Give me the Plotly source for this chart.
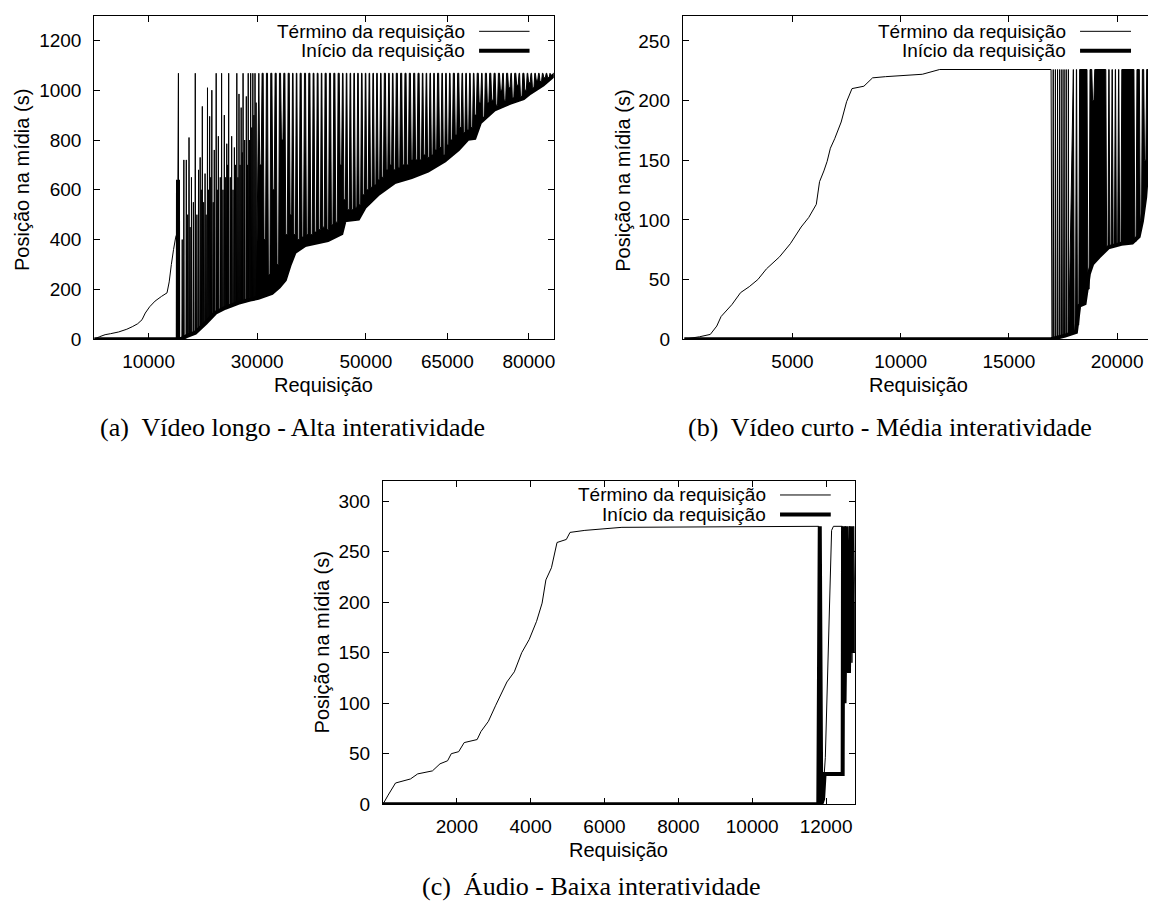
import plotly.graph_objects as go

LARG, ALT = 1149, 916

# ---------------- (a) Vídeo longo - Alta interatividade ----------------
a_duracao = 1068
a_marcas_x = [10000, 30000, 50000, 65000, 80000]
a_rotulos_x = ["10000", "30000", "50000", "65000", "80000"]
a_marcas_y = [0, 200, 400, 600, 800, 1000, 1200]
a_rotulos_y = ["0", "200", "400", "600", "800", "1000", "1200"]

# posição de início de cada requisição (traço grosso)
a_inicio_x = [0, 15380, 15420, 15460, 16100, 17000, 18600, 20500, 22300, 24100, 26500,
              28700, 30200, 32700, 34000, 35100, 36000, 36900, 38800, 43000, 45500,
              46100, 48600, 49800, 52300, 55300, 58400, 61400, 64500, 67000, 68800,
              70000, 71000, 73700, 76500, 79000, 80200, 82600, 84600]
a_inicio_y = [0, 0, 640, 0, 2, 12, 26, 65, 106, 126, 146,
              159, 166, 186, 210, 239, 300, 350, 378, 398, 425,
              478, 484, 531, 584, 631, 651, 677, 717, 763, 805,
              808, 870, 923, 949, 968, 989, 1022, 1060]

# término das requisições que começam no instante 0
a_rampa_x = [0, 1000, 2000, 3000, 4500, 6000, 7000, 8000, 8800, 9400, 10200, 11200,
             12400, 13400, 13800, 14200, 14600, 15000, 15250, 15400, 15500, 15540]
a_rampa_y = [0, 10, 18, 22, 29, 40, 50, 62, 78, 105, 130, 153,
             172, 186, 230, 300, 360, 410, 425, 640, 1068, 3]

# picos isolados do término (posição, altura, pé)
a_picos_x = [16200, 16500, 16950, 17200, 17450, 17650, 17900, 18250, 18600, 18900,
             19200, 19500, 19700, 19900, 20150, 20400, 20600, 20850, 21050, 21250,
             21450, 21650, 21900, 22100, 22450, 22650, 22850, 23200, 23450, 23700,
             23950, 24200, 24400, 24550, 24750, 25050, 25300, 25550, 25800, 26000,
             26250, 26450, 26650, 26850, 27050, 27250, 27400, 27700, 28000, 28200,
             28350, 28600, 28800, 29000, 29200, 29400, 29600, 29800]
a_picos_y = [400, 720, 720, 500, 810, 450, 650, 550, 1068, 500,
             680, 730, 600, 935, 550, 665, 500, 1010, 600, 895,
             650, 1000, 550, 760, 1068, 600, 815, 650, 1068, 600,
             900, 650, 785, 700, 1068, 650, 815, 600, 770, 700,
             1068, 650, 985, 700, 930, 750, 1068, 800, 975, 700,
             1068, 800, 1068, 850, 1068, 900, 1068, 950]
a_picos_pe = [4, 6, 12, 15, 18, 20, 22, 25, 27, 33,
              40, 46, 51, 56, 60, 64, 68, 74, 78, 83,
              87, 92, 97, 101, 107, 110, 112, 116, 119, 122,
              125, 128, 131, 133, 135, 138, 140, 142, 144, 145,
              146, 147, 147, 149, 150, 152, 153, 155, 157, 158,
              158, 159, 160, 161, 162, 163, 164, 165]

# requisições interrompidas cedo na região densa (posição, término)
a_quedas_x = [30600, 31400, 32200, 33000, 33800, 34600, 35400, 36200, 36900, 37600,
              38400, 39200, 40000, 40750, 41500, 42200, 43000, 43800, 44600, 45400,
              46100, 46800, 47500, 48200, 48900, 49600, 50300, 51000, 51700, 52400,
              53100, 53900, 54600, 55300, 56100, 56900, 57700, 58500, 59300, 60100,
              60800, 61500, 62200, 62900, 63700, 64400, 65100, 65800, 66600, 67400,
              68100, 68800, 69500, 70200, 71000, 71700, 72500, 73300, 74100, 74900,
              75600, 76400, 77100, 77900, 78600, 79400, 80100, 80800, 81500, 82200,
              82900, 83600, 84200]
a_quedas_y = [700, 400, 260, 600, 300, 800, 420, 500, 420, 400,
              410, 420, 420, 430, 440, 450, 440, 460, 470, 700,
              560, 520, 520, 530, 540, 580, 600, 610, 620, 640,
              650, 680, 700, 680, 690, 700, 700, 720, 720, 720,
              740, 730, 740, 760, 770, 740, 780, 800, 820, 850,
              830, 840, 850, 900, 950, 890, 950, 960, 940, 1000,
              960, 1010, 970, 1020, 975, 1000, 1030, 1010, 1040, 1035,
              1050, 1050, 1060]

# ---------------- (b) Vídeo curto - Média interatividade ----------------
b_duracao = 226
b_marcas_x = [5000, 10000, 15000, 20000]
b_rotulos_x = ["5000", "10000", "15000", "20000"]
b_marcas_y = [0, 50, 100, 150, 200, 250]
b_rotulos_y = ["0", "50", "100", "150", "200", "250"]

b_inicio_x = [0, 16950, 17600, 18100, 18250, 18500, 18700, 18850, 19150, 19600,
              20200, 20700, 21000, 21150, 21300, 21430]
b_inicio_y = [0, 0, 3, 6, 28, 30, 55, 63, 69, 77,
              80, 81, 86, 99, 119, 150]

b_rampa_x = [0, 700, 1200, 1500, 1700, 2200, 2600, 3000, 3400, 3800, 4400, 4900,
             5400, 5750, 6100, 6250, 6450, 6600, 6750, 6950, 7250, 7500, 7750,
             8300, 8700, 9300, 11000, 11800, 16950, 16990]
b_rampa_y = [0, 2, 4, 11, 19, 29, 39, 44, 50, 59, 69, 80,
             94, 102, 113, 132, 141, 149, 160, 168, 182, 199, 210,
             212, 219, 220, 222, 226, 226, 0]

b_picos_x = [17050, 17150, 17250, 17350, 17450, 17550, 17650, 17750]
b_picos_y = [226, 226, 226, 226, 226, 226, 226, 226]
b_picos_pe = [1, 1, 2, 2, 2, 3, 3, 3]

b_quedas_x = [18050, 18200, 18680, 18900, 19550, 19700, 19850, 20000, 20150, 20850,
              21100, 21300]
b_quedas_y = [6, 12, 42, 200, 76, 77, 78, 79, 80, 82,
              95, 150]

# ---------------- (c) Áudio - Baixa interatividade ----------------
c_marcas_x = [2000, 4000, 6000, 8000, 10000, 12000]
c_rotulos_x = ["2000", "4000", "6000", "8000", "10000", "12000"]
c_marcas_y = [0, 50, 100, 150, 200, 250, 300]
c_rotulos_y = ["0", "50", "100", "150", "200", "250", "300"]

c_inicio_x = [0, 11790, 11830, 11870, 11920, 11960, 12450, 12460, 12500, 12560,
              12620, 12680, 12730, 12780]
c_inicio_y = [0, 0, 275, 0, 5, 30, 30, 275, 100, 275,
              130, 275, 150, 200]

c_termino_x = [0, 140, 340, 745, 940, 1340, 1545, 1750, 1850, 2050, 2200, 2550,
               2655, 2855, 3055, 3357, 3557, 3758, 3960, 4160, 4310, 4412, 4563,
               4714, 4966, 5066, 5468, 6472, 11800, 11810, 11900, 11980, 12150,
               12200, 12440, 12470, 12520, 12580, 12640, 12700, 12750, 12780]
c_termino_y = [0, 9, 21, 25, 30, 33, 40, 43, 50, 52, 61, 64,
               72, 82, 98, 121, 131, 150, 163, 181, 199, 222, 234,
               259, 262, 269, 271, 274, 275, 0, 3, 46, 271,
               275, 275, 40, 275, 180, 275, 140, 275, 200]


def dentes(px, py, pe, meia):
    """Picos finos do traço de término: sobe do pé até a altura e volta."""
    xs, ys = [], []
    for x, y, b in zip(px, py, pe):
        xs += [x - meia, x, x + meia]
        ys += [b, y, b]
    return xs, ys


def fendas(qx, qy, topo, sup, inf):
    """Região densa no fim da mídia, com fendas onde o término cai."""
    xs, ys = [], []
    for x, y in zip(qx, qy):
        xs += [x - sup, x - inf, x + inf, x + sup]
        ys += [topo, y, y, topo]
    return xs, ys


ax1, ay1 = dentes(a_picos_x, a_picos_y, a_picos_pe, 60)
ax2, ay2 = fendas(a_quedas_x, a_quedas_y, a_duracao, 300, 140)
a_denso_x = ax1 + ax2 + [a_inicio_x[-1]]
a_denso_y = ay1 + ay2 + [a_duracao]

bx1, by1 = dentes(b_picos_x, b_picos_y, b_picos_pe, 20)
bx2, by2 = fendas(b_quedas_x, b_quedas_y, b_duracao, 70, 30)
b_denso_x = bx1 + bx2 + [b_inicio_x[-1]]
b_denso_y = by1 + by2 + [b_duracao]

PRETO = "black"
FONTE = "Liberation Sans, Arial, Helvetica, sans-serif"
SERIFA = "Liberation Serif, Times New Roman, serif"
TAM = 19

fig = go.Figure()


def linha(x, y, larg, eixos, **extra):
    fig.add_trace(go.Scatter(x=x, y=y, mode="lines", showlegend=False, hoverinfo="skip",
                             line=dict(color=PRETO, width=larg, simplify=False),
                             xaxis=eixos[0], yaxis=eixos[1], **extra))


# (a)
linha(a_inicio_x, a_inicio_y, 4, ("x", "y"))
linha(a_denso_x, a_denso_y, 1, ("x", "y"), fill="tonexty", fillcolor=PRETO)
linha(a_rampa_x, a_rampa_y, 1, ("x", "y"))
# (b)
linha(b_inicio_x, b_inicio_y, 4, ("x2", "y2"))
linha(b_denso_x, b_denso_y, 1, ("x2", "y2"), fill="tonexty", fillcolor=PRETO)
linha(b_rampa_x, b_rampa_y, 1, ("x2", "y2"))
# (c)
linha(c_termino_x, c_termino_y, 1, ("x3", "y3"))
linha(c_inicio_x, c_inicio_y, 4, ("x3", "y3"))


def px(v):
    return v / LARG


def py(v):
    return 1 - v / ALT


def eixo(dominio, faixa, marcas, rotulos, ancora, espelho=True, afast=8):
    return dict(domain=dominio, range=faixa, tickvals=marcas, ticktext=rotulos,
                ticks="inside", ticklen=6, tickwidth=1, tickcolor=PRETO,
                showline=True, linecolor=PRETO, linewidth=1,
                mirror="ticks" if espelho else False,
                showgrid=False, zeroline=False, anchor=ancora, fixedrange=True,
                ticklabelstandoff=afast,
                tickfont=dict(family=FONTE, size=TAM, color=PRETO))


fig.update_layout(
    width=LARG, height=ALT, margin=dict(l=0, r=0, t=0, b=0),
    paper_bgcolor="white", plot_bgcolor="white",
    xaxis=eixo([px(94.3), px(554.3)], [0, 84600], a_marcas_x, a_rotulos_x, "y", afast=5),
    yaxis=eixo([py(343.3), py(15.7)], [0, 1300], a_marcas_y, a_rotulos_y, "x"),
    xaxis2=eixo([px(683.4), 1.0], [-70, 21430], b_marcas_x, b_rotulos_x, "y2", afast=5),
    yaxis2=eixo([py(343.3), py(16)], [0, 271], b_marcas_y, b_rotulos_y, "x2", espelho=False),
    xaxis3=eixo([px(383.3), px(855.6)], [0, 12780], c_marcas_x, c_rotulos_x, "y3", afast=5),
    yaxis3=eixo([py(814), py(486.7)], [0, 320], c_marcas_y, c_rotulos_y, "x3"),
)

notas = []
formas = []


def texto(x, y, t, tam=TAM, fam=FONTE, ang=0, ax="center"):
    notas.append(dict(x=px(x), y=py(y), xref="paper", yref="paper", text=t,
                      showarrow=False, textangle=ang, xanchor=ax, yanchor="middle",
                      borderpad=0, font=dict(family=fam, size=tam, color=PRETO)))


def legenda(fim_texto, ini_linha, fim_linha, y1, y2):
    texto(fim_texto, y1, "Término da requisição", ax="right")
    texto(fim_texto, y2, "Início da requisição", ax="right")
    for yy, w in ((y1, 1), (y2, 4)):
        formas.append(dict(type="line", xref="paper", yref="paper",
                           x0=px(ini_linha), x1=px(fim_linha), y0=py(yy), y1=py(yy),
                           line=dict(color=PRETO, width=w)))


# títulos dos eixos
texto(324, 389.5, "Requisição", tam=20)
texto(22.7, 182.5, "Posição na mídia (s)", tam=20, ang=-90)
texto(919, 389.5, "Requisição", tam=20)
texto(623.5, 183, "Posição na mídia (s)", tam=20, ang=-90)
texto(619.5, 860.5, "Requisição", tam=20)
texto(322.5, 650, "Posição na mídia (s)", tam=20, ang=-90)

# legendas
legenda(466, 479.5, 530, 31.7, 51.3)
legenda(1068, 1081, 1132, 31.7, 51.3)
legenda(768, 780.7, 831.5, 501, 520.7)

# legendas das subfiguras
texto(293, 433, "(a)  Vídeo longo - Alta interatividade", tam=26, fam=SERIFA)
texto(891, 433, "(b)  Vídeo curto - Média interatividade", tam=26, fam=SERIFA)
texto(592, 897, "(c)  Áudio - Baixa interatividade", tam=26, fam=SERIFA)

fig.update_layout(annotations=notas, shapes=formas)
fig.write_html("out.html")
